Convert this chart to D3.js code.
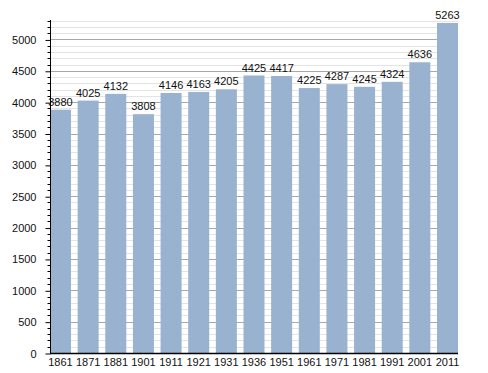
<!DOCTYPE html>
<html>
<head>
<meta charset="utf-8">
<script src="https://cdn.jsdelivr.net/npm/d3@7"></script>
<style>
body { margin: 0; background: #fff; }
text { font-family: "Liberation Sans", Arial, sans-serif; }
</style>
</head>
<body>
<div id="graph"></div>
<script>
var years = ["1861", "1871", "1881", "1901", "1911", "1921", "1931", "1936", "1951", "1961", "1971", "1981", "1991", "2001", "2011"];
var population = [3880, 4025, 4132, 3808, 4146, 4163, 4205, 4425, 4417, 4225, 4287, 4245, 4324, 4636, 5263];
var yTicks = [0, 500, 1000, 1500, 2000, 2500, 3000, 3500, 4000, 4500, 5000];

init();

function init() {
    var w = 488, h = 373;
    var vis = d3.select("#graph").append("svg")
        .attr("width", w)
        .attr("height", h);

    var left = 50, right = 458, top = 20, bottom = 353;

    var x = d3.scaleBand()
        .domain(years)
        .range([left, right])
        .paddingInner(0.24)
        .paddingOuter(0);

    var y = d3.scaleLinear()
        .domain([0, 5310])
        .range([bottom, top]);

    // minor grid every 100
    var minor = d3.range(100, 5301, 100).filter(function(v) { return v % 500 != 0; });
    vis.selectAll("line.minor")
        .data(minor)
        .enter()
        .append("line")
        .attr("class", "minor")
        .attr("x1", left)
        .attr("x2", right)
        .attr("y1", function(d) { return Math.round(y(d)) + 0.5; })
        .attr("y2", function(d) { return Math.round(y(d)) + 0.5; })
        .attr("stroke", "#e4e4e4")
        .attr("stroke-width", 1);

    vis.selectAll("line.major")
        .data(yTicks.slice(1))
        .enter()
        .append("line")
        .attr("class", "major")
        .attr("x1", left)
        .attr("x2", right)
        .attr("y1", function(d) { return Math.round(y(d)) + 0.5; })
        .attr("y2", function(d) { return Math.round(y(d)) + 0.5; })
        .attr("stroke", "#a8a8a8")
        .attr("stroke-width", 1);

    // bars
    vis.selectAll("rect.bar")
        .data(population)
        .enter()
        .append("rect")
        .attr("class", "bar")
        .attr("x", function(d, i) { return x(years[i]); })
        .attr("y", function(d) { return y(d); })
        .attr("width", x.bandwidth())
        .attr("height", function(d) { return y(0) - y(d); })
        .attr("fill", "#98b2cf");

    vis.selectAll("text.value")
        .data(population)
        .enter()
        .append("text")
        .attr("class", "value")
        .attr("x", function(d, i) { return x(years[i]) + x.bandwidth() / 2; })
        .attr("y", function(d) { return y(d) - 4; })
        .attr("text-anchor", "middle")
        .attr("fill", "#111")
        .style("font-size", "11px")
        .text(function(d) { return d; });

    // y axis with minor ticks
    var yAxis = d3.axisLeft(y)
        .tickValues(yTicks)
        .tickFormat(d3.format("d"))
        .tickSize(5)
        .tickPadding(9);
    var ya = vis.append("g")
        .attr("transform", "translate(" + (left + 0.5) + ",0.5)")
        .call(yAxis);
    ya.select(".domain").attr("stroke", "#000").attr("d", "M0," + (top - 0.5) + "V" + (bottom - 0.5));
    ya.selectAll(".tick line").attr("stroke", "#000");
    ya.selectAll(".tick text")
        .attr("fill", "#111")
        .style("font-size", "11px")
        .style("font-family", "'Liberation Sans', Arial, sans-serif");

    vis.append("g")
        .attr("transform", "translate(" + (left + 0.5) + ",0.5)")
        .selectAll("line")
        .data(minor)
        .enter()
        .append("line")
        .attr("x1", -3)
        .attr("x2", 0)
        .attr("y1", function(d) { return Math.round(y(d)); })
        .attr("y2", function(d) { return Math.round(y(d)); })
        .attr("stroke", "#000");

    // x axis
    vis.append("line")
        .attr("x1", left)
        .attr("x2", right)
        .attr("y1", bottom + 0.5)
        .attr("y2", bottom + 0.5)
        .attr("stroke", "#000")
        .attr("stroke-width", 1.5);

    vis.selectAll("text.year")
        .data(years)
        .enter()
        .append("text")
        .attr("class", "year")
        .attr("x", function(d) { return x(d) + x.bandwidth() / 2; })
        .attr("y", 366)
        .attr("text-anchor", "middle")
        .attr("fill", "#111")
        .style("font-size", "11px")
        .text(function(d) { return d; });
}
</script>
</body>
</html>
